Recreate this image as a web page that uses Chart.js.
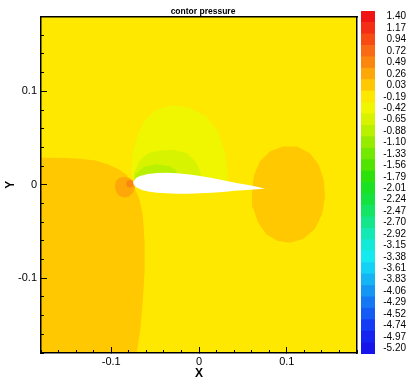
<!DOCTYPE html>
<html><head><meta charset="utf-8">
<script src="https://cdn.jsdelivr.net/npm/chart.js@4/dist/chart.umd.min.js"></script>
<style>
html,body{margin:0;padding:0;background:#fff;overflow:hidden}
#wrap{position:relative;width:406px;height:378px}
#main{position:absolute;left:0;top:0}
#bar{position:absolute;left:358px;top:0}
</style></head><body>
<div id="wrap">
<canvas id="main" width="406" height="378"></canvas>
<canvas id="bar" width="48" height="378"></canvas>
</div>
<script>
// ---- colour-bar levels (top to bottom) ----
const levelLabels = ['1.40','1.17','0.94','0.72','0.49','0.26','0.03','-0.19','-0.42','-0.65','-0.88','-1.10','-1.33','-1.56','-1.79','-2.01','-2.24','-2.47','-2.70','-2.92','-3.15','-3.38','-3.61','-3.83','-4.06','-4.29','-4.52','-4.74','-4.97','-5.20'];
const levelColors = ['rgb(240,20,20)','rgb(245,45,20)','rgb(248,75,20)','rgb(250,105,20)','rgb(252,135,15)','rgb(253,168,8)','rgb(255,200,0)','rgb(255,232,0)','rgb(240,245,0)','rgb(215,243,0)','rgb(185,240,0)','rgb(150,235,0)','rgb(115,232,0)','rgb(80,228,0)','rgb(45,226,10)','rgb(25,226,35)','rgb(20,226,65)','rgb(20,228,100)','rgb(20,230,140)','rgb(20,232,180)','rgb(20,234,215)','rgb(20,234,240)','rgb(20,210,245)','rgb(20,180,245)','rgb(20,150,245)','rgb(20,120,245)','rgb(20,90,245)','rgb(20,60,245)','rgb(20,35,240)','rgb(20,20,235)'];

// ---- axis ranges / ticks ----
const xRange = [-0.18, 0.18];
const yRange = [-0.18, 0.18];
const majorStep = 0.1;
const minorStep = 0.02;

// ---- contour regions (x, y data coordinates) ----
const domain = [[-0.18,-0.18],[-0.18,0.18],[0.18,0.18],[0.18,-0.18]];
const leftHigh = [[-0.180,0.029],[-0.158,0.029],[-0.136,0.028],[-0.118,0.026],[-0.104,0.022],[-0.092,0.017],[-0.083,0.011],[-0.077,0.004],[-0.073,-0.004],[-0.068,-0.015],[-0.064,-0.032],[-0.062,-0.061],[-0.062,-0.093],[-0.064,-0.124],[-0.067,-0.156],[-0.071,-0.180],[-0.180,-0.180]];
const wakeHigh = [[0.0604,-0.0084],[0.0626,0.0105],[0.0695,0.0253],[0.0809,0.0358],[0.0957,0.0411],[0.1116,0.0411],[0.1264,0.0337],[0.1367,0.0211],[0.1424,0.0042],[0.1435,-0.0137],[0.1401,-0.0316],[0.1321,-0.0474],[0.1185,-0.0579],[0.1036,-0.0621],[0.0888,-0.0600],[0.0763,-0.0526],[0.0672,-0.0400],[0.0615,-0.0242]];
const noseHigh = [[-0.0957,-0.0021],[-0.0945,0.0042],[-0.0911,0.0074],[-0.0854,0.0084],[-0.0797,0.0074],[-0.0752,0.0042],[-0.0729,-0.0021],[-0.0752,-0.0084],[-0.0797,-0.0126],[-0.0854,-0.0137],[-0.0911,-0.0116],[-0.0945,-0.0074]];
const noseCore = [[-0.0831,0.0011],[-0.0820,0.0042],[-0.0786,0.0053],[-0.0752,0.0042],[-0.0740,0.0011],[-0.0752,-0.0021],[-0.0786,-0.0032],[-0.0820,-0.0021]];
const suction1 = [[-0.0740,0.0011],[-0.0774,0.0147],[-0.0752,0.0337],[-0.0706,0.0516],[-0.0626,0.0684],[-0.0478,0.0811],[-0.0296,0.0853],[-0.0103,0.0821],[0.0080,0.0737],[0.0216,0.0568],[0.0296,0.0358],[0.0319,0.0179],[0.0330,0.0011]];
const suction2 = [[-0.0740,0.0011],[-0.0740,0.0126],[-0.0672,0.0263],[-0.0581,0.0337],[-0.0478,0.0363],[-0.0296,0.0374],[-0.0137,0.0337],[-0.0034,0.0242],[0.0011,0.0147],[0.0034,0.0011]];
const suction3 = [[-0.0740,0.0011],[-0.0729,0.0105],[-0.0638,0.0189],[-0.0490,0.0221],[-0.0342,0.0200],[-0.0262,0.0158],[-0.0228,0.0011]];
const airfoilUpper = [[-0.0752,0.0026],[-0.0718,0.0074],[-0.0672,0.0095],[-0.0581,0.0116],[-0.0478,0.0126],[-0.0364,0.0128],[-0.0251,0.0123],[-0.0103,0.0111],[0.0011,0.0095],[0.0148,0.0074],[0.0273,0.0049],[0.0410,0.0023],[0.0547,0.0],[0.0661,-0.0021],[0.0752,-0.0042]];
const airfoilLower = [[0.0661,-0.0047],[0.0547,-0.0055],[0.0410,-0.0065],[0.0273,-0.0076],[0.0148,-0.0084],[0.0011,-0.0091],[-0.0125,-0.0095],[-0.0251,-0.0095],[-0.0364,-0.0091],[-0.0478,-0.0084],[-0.0581,-0.0072],[-0.0649,-0.0055],[-0.0706,-0.0032],[-0.0740,-0.0005]];

// bottom-to-top drawing order with the level each region shows
const regions = [
  {pts: domain,    level: '-0.19'},
  {pts: leftHigh,  level: '0.03'},
  {pts: wakeHigh,  level: '0.03'},
  {pts: noseHigh,  level: '0.26'},
  {pts: noseCore,  level: '0.49'},
  {pts: suction1,  level: '-0.42'},
  {pts: suction2,  level: '-0.65'},
  {pts: suction3,  level: '-0.88'},
  {pts: airfoilUpper.concat(airfoilLower), color: '#ffffff'}
];

const F = '"Liberation Sans", Arial, Helvetica, sans-serif';
function colorOf(r){ return r.color || levelColors[levelLabels.indexOf(r.level)]; }
// start at the left-most vertex and finish at the right-most one (filler clips to that x span)
function shapeData(poly){
  let iMin = 0, iMax = 0;
  poly.forEach((p,i)=>{ if (p[0] < poly[iMin][0]) iMin = i; if (p[0] > poly[iMax][0]) iMax = i; });
  const rot = poly.slice(iMin).concat(poly.slice(0, iMin));
  return rot.concat([rot[0], poly[iMax]]).map(p => ({x: p[0], y: p[1]}));
}
const datasets = regions.map((r, i) => ({
  data: shapeData(r.pts), fill: 'shape', backgroundColor: colorOf(r),
  borderWidth: 0, pointRadius: 0, tension: 0, order: regions.length - i
}));

const tickFmt = v => (Math.abs(v) < 1e-9 ? '0' : String(+Number(v).toFixed(2)));
const noTickAxis = {drawOnChartArea:false, drawTicks:false, z:1};

new Chart(document.getElementById('main'), {
  type: 'line',
  data: {datasets},
  options: {
    responsive:false, animation:false, events:[],
    layout:{padding:{top:0.8,left:0,right:0,bottom:0}},
    plugins:{
      legend:{display:false}, tooltip:{enabled:false},
      title:{display:true, text:'contor pressure', color:'#000', font:{family:F, size:8.5, weight:'bold', lineHeight:1.2}, padding:{top:0,bottom:0}}
    },
    scales:{
      x:{type:'linear', position:'bottom', min:xRange[0], max:xRange[1],
         ticks:{stepSize:majorStep, includeBounds:false, callback:tickFmt, color:'#000', font:{family:F,size:11}, padding:8, maxRotation:0, autoSkip:false},
         grid:{drawOnChartArea:false, drawTicks:true, tickLength:-6, tickColor:'#000', tickWidth:1, z:1},
         border:{display:true, color:'#000', width:1.5, z:1},
         title:{display:true, text:'X', color:'#000', font:{family:F,size:12,weight:'bold',lineHeight:1}, padding:{top:0,bottom:-2}},
         afterFit(s){ s.height = 25; }},
      xMinor:{type:'linear', position:'bottom', weight:-1, min:xRange[0], max:xRange[1],
         ticks:{display:false, stepSize:minorStep, includeBounds:false},
         grid:{drawOnChartArea:false, drawTicks:true, tickLength:-3, tickColor:'#000', tickWidth:1, z:1},
         border:{display:false}, afterFit(s){ s.height = 0; }},
      xTop:{type:'linear', position:'top', weight:-1, min:xRange[0], max:xRange[1],
         ticks:{display:false}, grid:noTickAxis, border:{display:true,color:'#000',width:1.5,z:1}, afterFit(s){ s.height = 0; }},
      y:{type:'linear', position:'left', min:yRange[0], max:yRange[1],
         ticks:{stepSize:majorStep, includeBounds:false, callback:tickFmt, color:'#000', font:{family:F,size:11}, padding:10, autoSkip:false},
         grid:{drawOnChartArea:false, drawTicks:true, tickLength:-6, tickColor:'#000', tickWidth:1, z:1},
         border:{display:true, color:'#000', width:1.5, z:1},
         title:{display:true, text:'Y', color:'#000', font:{family:F,size:12,weight:'bold',lineHeight:1.2}, padding:{top:3.5,bottom:0}},
         afterFit(s){ s.width = 41; }},
      yMinor:{type:'linear', position:'left', weight:-1, min:yRange[0], max:yRange[1],
         ticks:{display:false, stepSize:minorStep, includeBounds:false},
         grid:{drawOnChartArea:false, drawTicks:true, tickLength:-3, tickColor:'#000', tickWidth:1, z:1},
         border:{display:false}, afterFit(s){ s.width = 0; }},
      yRight:{type:'linear', position:'right', min:yRange[0], max:yRange[1],
         ticks:{display:false}, grid:noTickAxis, border:{display:true,color:'#000',width:1.5,z:1}, afterFit(s){ s.width = 49; }}
    }
  }
});

new Chart(document.getElementById('bar'), {
  type:'bar',
  data:{labels: levelLabels, datasets:[{data: levelLabels.map(() => 1), backgroundColor: levelColors, borderWidth:0, categoryPercentage:1, barPercentage:1}]},
  options:{
    indexAxis:'y', responsive:false, animation:false, events:[],
    layout:{padding:{left:3, top:10, bottom:24, right:0}},
    plugins:{legend:{display:false}, tooltip:{enabled:false}},
    scales:{
      x:{display:false, min:0, max:1},
      y:{position:'right', grid:{display:false, drawTicks:false}, border:{display:false},
         ticks:{color:'#000', font:{family:F,size:10}, padding:5, crossAlign:'far', autoSkip:false},
         afterFit(s){ s.width = 31; }}
    }
  }
});
</script>
</body></html>
